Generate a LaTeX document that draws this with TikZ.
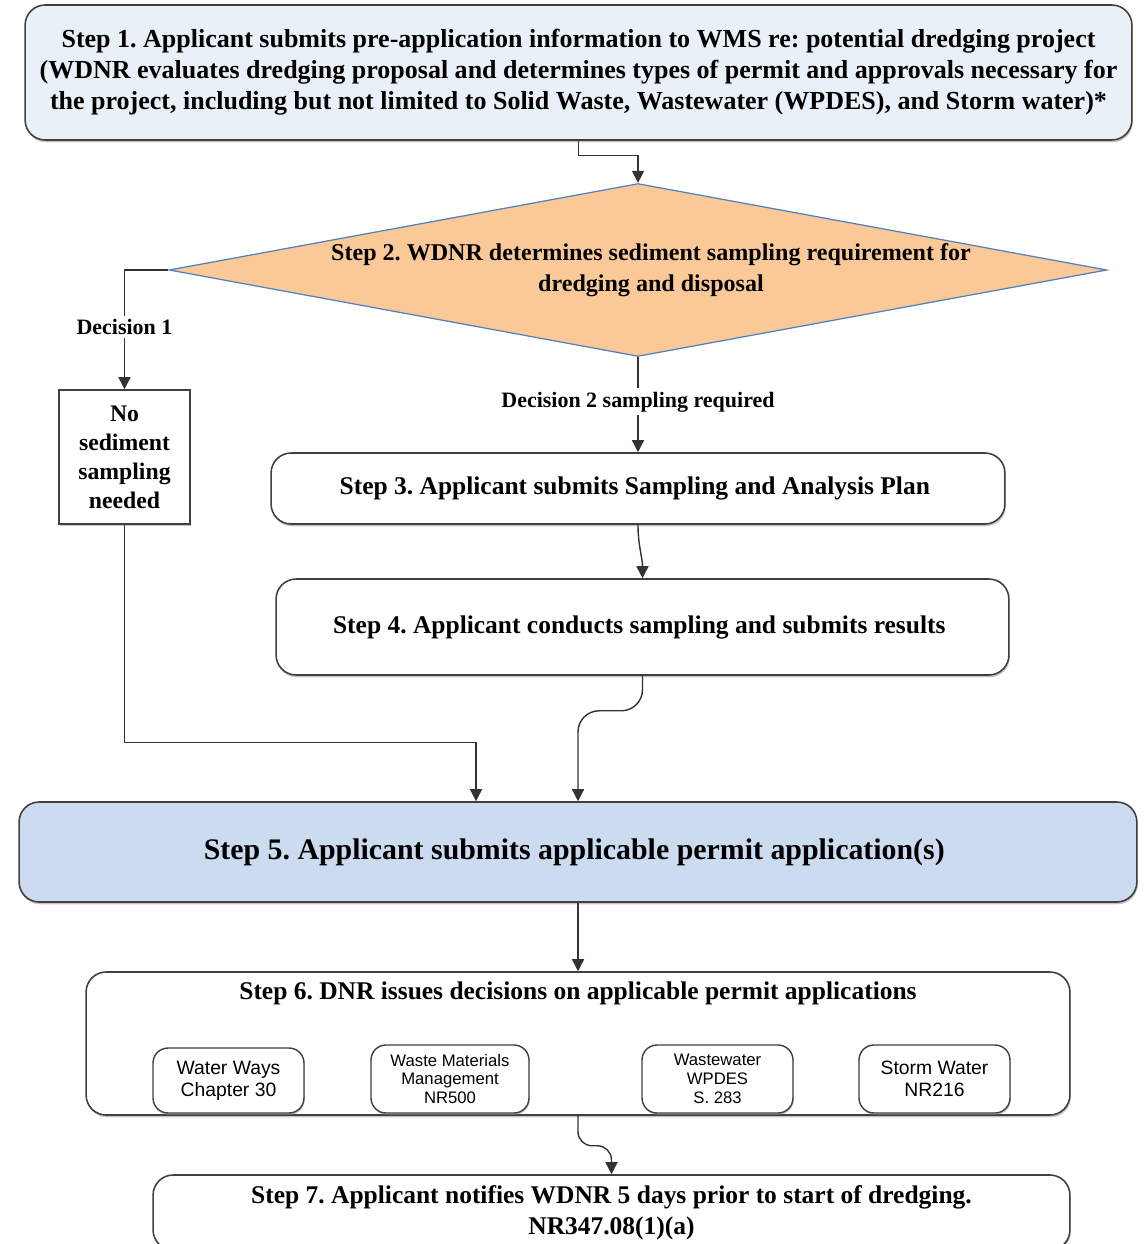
\documentclass[tikz,border=0pt]{standalone}
\usepackage{fontspec}
\setmainfont{Liberation Serif}
\setsansfont{Liberation Sans}
\usepackage{tikz}
\usetikzlibrary{shapes.geometric,arrows.meta,shadows}

\definecolor{stepblue}{HTML}{EAF0F8}
\definecolor{permitblue}{HTML}{CCDBF0}
\definecolor{decisionorange}{HTML}{FBC997}
\definecolor{decisionline}{HTML}{4F81BD}

\frenchspacing
\begin{document}
\begin{tikzpicture}[x=0.02cm, y=-0.02cm,
    stepbox/.style={draw=black!75, line width=0.9pt, rounded corners=0.4cm, fill=white,
      drop shadow={shadow xshift=0.5pt, shadow yshift=-1.3pt, fill=black!45},
      align=center, font=\fontsize{14.5}{17.6}\selectfont\bfseries},
    permitbox/.style={draw=black!75, line width=0.8pt, rounded corners=0.3cm, fill=white,
      drop shadow={shadow xshift=0.4pt, shadow yshift=-1pt, fill=black!45},
      align=center, font=\sffamily\fontsize{9.5}{10.8}\selectfont},
    decision/.style={diamond, draw=decisionline, line width=0.7pt, fill=decisionorange, inner sep=0pt},
    flowlabel/.style={fill=white, inner sep=2pt, font=\fontsize{12.5}{14}\selectfont\bfseries},
    arr/.style={draw=black!80, line width=0.8pt, -{Triangle[length=2.4mm, width=2.4mm]}}
  ]
        \useasboundingbox (0,0) rectangle (1143,1244);

        %Step 1
        \node [stepbox, fill=stepblue, minimum width=22.14cm, minimum height=2.7cm,
          font=\fontsize{14.8}{17.6}\selectfont\bfseries] (step1) at (578.5,72.5) {
          Step 1. Applicant submits pre-application information to WMS re: potential dredging project\\
          (WDNR evaluates dredging proposal and determines types of permit and approvals necessary for\\
          the project, including but not limited to Solid Waste, Wastewater (WPDES), and Storm water)*
        };
        %Step 2
        \node [decision, minimum width=18.76cm, minimum height=3.46cm] (step2) at (638,270) {};
        \node [align=center, font=\fontsize{13.7}{17.6}\selectfont\bfseries] (step2text) at (651,270) {
          Step 2. WDNR determines sediment sampling requirement for\\ dredging and disposal
        };
        %No sampling
        \node [stepbox, rounded corners=0pt, minimum width=2.62cm, minimum height=2.68cm,
          font=\fontsize{13.5}{16.5}\selectfont\bfseries] (nosed) at (124.5,457) {
          No\\ sediment\\ sampling\\ needed
        };
        %Step 3
        \node [stepbox, minimum width=14.68cm, minimum height=1.42cm] (step3) at (638,488.5) {
          Step 3. Applicant submits Sampling and Analysis Plan
        };
        %Step 4
        \node [stepbox, minimum width=14.66cm, minimum height=1.92cm] (step4) at (642.5,627) {
          Step 4. Applicant conducts sampling and submits results
        };
        %Step 5
        \node [stepbox, fill=permitblue, minimum width=22.36cm, minimum height=2cm,
          font=\fontsize{17}{20}\selectfont\bfseries] (step5) at (578,852) {
          Step 5. Applicant submits applicable permit application(s)
        };
        %Step 6
        \node [stepbox, minimum width=19.68cm, minimum height=2.86cm] (step6) at (578,1043.5) {};
        \node [font=\fontsize{14.5}{17.6}\selectfont\bfseries] (step6title) at (578,993) {
          Step 6. DNR issues decisions on applicable permit applications
        };
        \node [permitbox, minimum width=3.02cm, minimum height=1.3cm,
          font=\sffamily\fontsize{11}{12.5}\selectfont] (waterways) at (228.5,1080.5) {Water Ways\\ Chapter 30};
        \node [permitbox, minimum width=3.16cm, minimum height=1.36cm] (wastemat) at (450,1079) {Waste Materials\\ Management\\ NR500};
        \node [permitbox, minimum width=3.02cm, minimum height=1.36cm] (wpdes) at (717.5,1079) {Wastewater\\ WPDES\\ S. 283};
        \node [permitbox, minimum width=3.02cm, minimum height=1.36cm,
          font=\sffamily\fontsize{11}{12.5}\selectfont] (stormwater) at (934.5,1079) {Storm Water\\ NR216};
        %Step 7
        \node [stepbox, minimum width=18.34cm, minimum height=1.5cm] (step7) at (611.5,1212.5) {
          Step 7. Applicant notifies WDNR 5 days prior to start of dredging.\\ NR347.08(1)(a)
        };

        %Arrows
        \draw [arr] (step1.south) -- ++(0,15) -| (step2.north);
        \draw [arr] (step2.west) -| node [flowlabel, pos=0.74] {Decision 1} (nosed.north);
        \draw [arr] (step2.south) -- node [flowlabel, pos=0.47] {Decision 2 sampling required} (step3.north);
        \draw [arr] (step3.south) to [out=-90, in=90] (step4.north);
        \draw [arr, rounded corners=12pt] (step4.south) -- ++(0,35) -| (step5.north);
        \draw [arr] (nosed.south) -- ++(0,218) -| ([xshift=-2.04cm]step5.north);
        \draw [arr] (step5.south) -- (step6.north);
        \draw [arr, rounded corners=8pt] (step6.south) -- ++(0,30) -| (step7.north);
      \end{tikzpicture}
\end{document}
